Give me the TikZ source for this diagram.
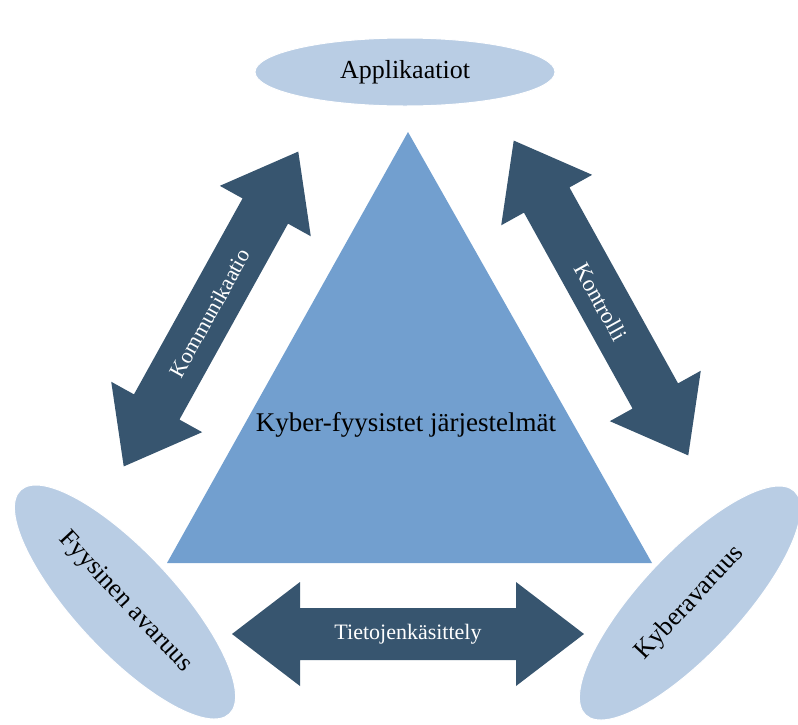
\documentclass[tikz,border=0pt]{standalone}
\usepackage{fontspec}
\setmainfont{Liberation Serif}
\usetikzlibrary{shapes.geometric}
\definecolor{ellc}{RGB}{185,205,228}
\definecolor{tric}{RGB}{114,159,207}
\definecolor{arrc}{RGB}{55,85,111}
\tikzset{
  oval/.style={ellipse, fill=ellc, draw=white, line width=1pt, inner sep=0pt,
    font=\fontsize{26}{30}\selectfont},
  arrowlabel/.style={text=white, inner sep=0pt, font=\fontsize{22}{26}\selectfont},
  dblarrow/.style={fill=arrc},
  bigtext/.style={inner sep=0pt, font=\fontsize{27}{31}\selectfont}
}
\begin{document}
\begin{tikzpicture}[x=1pt,y=-1pt]
\useasboundingbox (0,0) rectangle (798,724);
% triangle
\coordinate (apex) at (408,132);
\coordinate (bl) at (167,563);
\coordinate (br) at (652,563);
\fill[tric] (apex) -- (bl) -- (br) -- cycle;
\node[bigtext] (cps) at (406,425) {Kyber-fyysistet järjestelmät};
% left arrow
\begin{scope}[shift={(211,309)}, rotate=61]
\fill[dblarrow] (-180,0) -- (-112,-52) -- (-112,-26) -- (112,-26) -- (112,-52) -- (180,0)
  -- (112,52) -- (112,26) -- (-112,26) -- (-112,52) -- cycle;
\end{scope}
% right arrow
\begin{scope}[shift={(601,298)}, rotate=-61]
\fill[dblarrow] (-180,0) -- (-112,-52) -- (-112,-26) -- (112,-26) -- (112,-52) -- (180,0)
  -- (112,52) -- (112,26) -- (-112,26) -- (-112,52) -- cycle;
\end{scope}
% bottom arrow
\begin{scope}[shift={(408,634)}]
\fill[dblarrow] (-176,0) -- (-108,-52) -- (-108,-26) -- (108,-26) -- (108,-52) -- (176,0)
  -- (108,52) -- (108,26) -- (-108,26) -- (-108,52) -- cycle;
\end{scope}
\node[arrowlabel, rotate=61] (komm) at (210,313) {Kommunikaatio};
\node[arrowlabel, rotate=-61, font=\fontsize{23}{27}\selectfont] (kont) at (601,302) {Kontrolli};
\node[arrowlabel] (tiet) at (408,634) {Tietojenkäsittely};
% ellipses
\node[oval, minimum width=300, minimum height=68] (app) at (405,72) {Applikaatiot};
\node[oval, rotate=-47, minimum width=306, minimum height=100] (fyys) at (125,602) {Fyysinen avaruus};
\node[oval, rotate=47, minimum width=306, minimum height=100] (kyb) at (690,603) {Kyberavaruus};
\end{tikzpicture}
\end{document}
